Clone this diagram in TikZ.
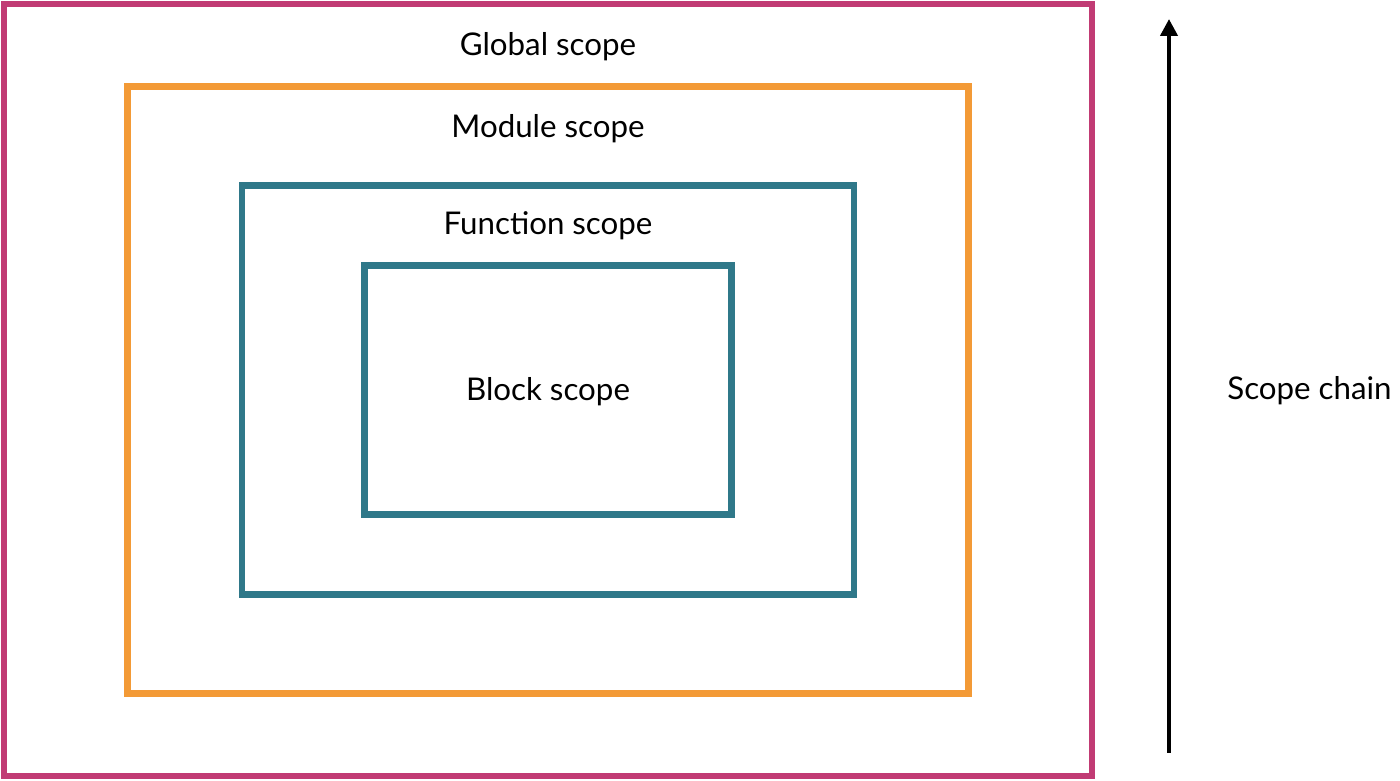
\documentclass[tikz,border=0pt]{standalone}
\usepackage{fontspec}
\setmainfont{Lato}
\usepackage{tikz}
\usetikzlibrary{positioning, arrows.meta, calc}

\definecolor{globalcol}{HTML}{C13B74}
\definecolor{modulecol}{HTML}{F39A36}
\definecolor{scopecol}{HTML}{2F7889}

\begin{document}
\begin{tikzpicture}[
    scopebox/.style={draw=#1, line width=3.9pt, rectangle, inner sep=0pt},
    scopelabel/.style={font=\fontsize{17.8}{21}\selectfont, inner sep=0pt, anchor=center}
  ]
                  \useasboundingbox (0,0) rectangle (28,15.62);
                  \coordinate (c) at (10.96, 7.82);

                  % Global scope
                  \node[scopebox=globalcol, minimum width=21.76cm, minimum height=15.44cm] (global) at (c) {};
                  \node[scopelabel, below=0.92cm of global.north, anchor=center] (globallabel) {Global scope};

                  % Module scope
                  \node[scopebox=modulecol, minimum width=16.82cm, minimum height=12.14cm] (module) at (c) {};
                  \node[scopelabel, below=0.92cm of module.north, anchor=center] (modulelabel) {Module scope};

                  % Function scope
                  \node[scopebox=scopecol, minimum width=12.24cm, minimum height=8.18cm] (function) at (c) {};
                  \node[scopelabel, below=0.87cm of function.north, anchor=center] (functionlabel) {Function scope};

                  % Block scope
                  \node[scopebox=scopecol, line width=3.6pt, minimum width=7.34cm, minimum height=4.98cm] (block) at (c) {};
                  \node[scopelabel, yshift=-0.04cm] (blocklabel) at (block.center) {Block scope};

                  % Scope chain
                  \coordinate (chainlow) at (23.38, 0.56);
                  \coordinate (chaintop) at (23.38, 15.24);
                  \coordinate (chainmid) at ($(chainlow)!0.5!(chaintop)$);
                  \draw[-{Triangle[length=3.4mm, width=3.4mm]}, line width=2.3pt] (chainlow) -- (chaintop);
                  \node[scopelabel, right=1.16cm of chainmid, anchor=west, yshift=-0.1cm] (chainlabel) {Scope chain};

              \end{tikzpicture}
\end{document}
